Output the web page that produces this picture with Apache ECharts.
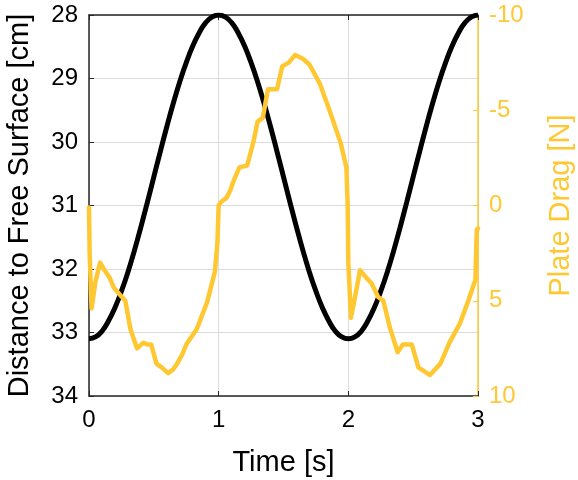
<!DOCTYPE html>
<html>
<head>
<meta charset="utf-8">
<script src="https://cdn.jsdelivr.net/npm/echarts@6/dist/echarts.min.js"></script>
<style>
  html, body { margin: 0; padding: 0; background: #fff; }
  #chart { width: 578px; height: 480px; }
</style>
</head>
<body>
<div id="chart"></div>
<script>
// Plate distance to the free surface [cm], sampled every 0.05 s
const distTime = [
  0.00, 0.05, 0.10, 0.15, 0.20, 0.25, 0.30, 0.35, 0.40, 0.45,
  0.50, 0.55, 0.60, 0.65, 0.70, 0.75, 0.80, 0.85, 0.90, 0.95,
  1.00, 1.05, 1.10, 1.15, 1.20, 1.25, 1.30, 1.35, 1.40, 1.45,
  1.50, 1.55, 1.60, 1.65, 1.70, 1.75, 1.80, 1.85, 1.90, 1.95,
  2.00, 2.05, 2.10, 2.15, 2.20, 2.25, 2.30, 2.35, 2.40, 2.45,
  2.50, 2.55, 2.60, 2.65, 2.70, 2.75, 2.80, 2.85, 2.90, 2.95, 3.00
];
const distValues = [
  33.10, 33.07, 32.98, 32.82, 32.61, 32.35, 32.05, 31.71, 31.34, 30.95,
  30.55, 30.15, 29.76, 29.39, 29.05, 28.75, 28.49, 28.28, 28.12, 28.03,
  28.00, 28.03, 28.12, 28.28, 28.49, 28.75, 29.05, 29.39, 29.76, 30.15,
  30.55, 30.95, 31.34, 31.71, 32.05, 32.35, 32.61, 32.82, 32.98, 33.07,
  33.10, 33.07, 32.98, 32.82, 32.61, 32.35, 32.05, 31.71, 31.34, 30.95,
  30.55, 30.15, 29.76, 29.39, 29.05, 28.75, 28.49, 28.28, 28.12, 28.03, 28.00
];

// Measured plate drag [N]
const dragTime = [
  0.000, 0.005, 0.020, 0.050, 0.085, 0.120, 0.160, 0.190, 0.240, 0.280,
  0.320, 0.370, 0.420, 0.450, 0.480, 0.520, 0.560, 0.610, 0.650, 0.680,
  0.720, 0.750, 0.830, 0.910, 0.970, 0.990, 1.000, 1.020, 1.060, 1.090,
  1.110, 1.160, 1.220, 1.270, 1.300, 1.340, 1.380, 1.450, 1.490, 1.540,
  1.590, 1.650, 1.700, 1.780, 1.860, 1.940, 1.985, 1.995, 2.000, 2.020,
  2.060, 2.090, 2.140, 2.180, 2.230, 2.270, 2.320, 2.380, 2.420, 2.490,
  2.540, 2.630, 2.710, 2.780, 2.860, 2.920, 2.980, 2.990, 3.000
];
const dragValues = [
  0.1, 2.5, 5.4, 4.0, 3.0, 3.4, 3.8, 4.3, 4.7, 5.0,
  6.5, 7.5, 7.2, 7.3, 7.3, 8.3, 8.5, 8.8, 8.6, 8.3,
  7.8, 7.3, 6.5, 5.1, 3.5, 2.0, 0.0, -0.2, -0.4, -0.8,
  -1.2, -2.0, -2.1, -3.4, -4.4, -4.6, -6.1, -6.1, -7.3, -7.5,
  -7.9, -7.7, -7.4, -6.4, -4.9, -3.3, -2.0, 0.0, 3.0, 5.9,
  4.5, 3.4, 3.8, 4.1, 4.8, 5.0, 6.4, 7.7, 7.3, 7.3,
  8.5, 8.9, 8.3, 7.2, 6.2, 5.1, 3.9, 1.3, 1.2
];

const AXIS_DARK = '#262626';
const DRAG_COLOR = '#FFC832';
const FONT = 'Liberation Sans, Arial, sans-serif';

const zip = (xs, ys) => xs.map((x, i) => [x, ys[i]]);

const chart = echarts.init(document.getElementById('chart'), null, { renderer: 'canvas' });

chart.setOption({
  animation: false,
  backgroundColor: '#ffffff',
  grid: { left: 89, right: 100, top: 15, bottom: 84, containLabel: false, outerBoundsMode: 'none' },
  xAxis: [
    {
      type: 'value', min: 0, max: 3, interval: 1,
      name: 'Time [s]', nameLocation: 'middle', nameGap: 52,
      nameTextStyle: { fontFamily: FONT, fontSize: 29, color: '#000' },
      axisLine: { show: true, onZero: false, lineStyle: { color: AXIS_DARK, width: 1.5 } },
      axisTick: { show: true, inside: true, length: 5, lineStyle: { color: AXIS_DARK } },
      axisLabel: { fontFamily: FONT, fontSize: 24, color: '#000', margin: 12 },
      splitLine: { show: true, lineStyle: { color: '#dcdcdc', width: 1 } }
    },
    {
      type: 'value', min: 0, max: 3, interval: 1, position: 'top',
      axisLine: { show: true, onZero: false, lineStyle: { color: AXIS_DARK, width: 1.5 } },
      axisTick: { show: true, inside: true, length: 5, lineStyle: { color: AXIS_DARK } },
      axisLabel: { show: false },
      splitLine: { show: false }
    }
  ],
  yAxis: [
    {
      type: 'value', inverse: true, min: 28, max: 34, interval: 1,
      name: 'Distance to Free Surface [cm]', nameLocation: 'middle', nameGap: 55,
      nameTextStyle: { fontFamily: FONT, fontSize: 29, color: '#000' },
      axisLine: { show: true, onZero: false, lineStyle: { color: AXIS_DARK, width: 1.5 } },
      axisTick: { show: true, inside: true, length: 5, lineStyle: { color: AXIS_DARK } },
      axisLabel: { fontFamily: FONT, fontSize: 24, color: '#000', margin: 11 },
      splitLine: { show: true, lineStyle: { color: '#dcdcdc', width: 1 } }
    },
    {
      type: 'value', inverse: true, min: -10, max: 10, interval: 5, position: 'right',
      name: 'Plate Drag [N]', nameLocation: 'middle', nameGap: 68, nameRotate: 90,
      nameTextStyle: { fontFamily: FONT, fontSize: 29, color: DRAG_COLOR },
      axisLine: { show: true, onZero: false, lineStyle: { color: DRAG_COLOR, width: 1.5 } },
      axisTick: { show: true, inside: true, length: 5, lineStyle: { color: DRAG_COLOR } },
      axisLabel: { fontFamily: FONT, fontSize: 24, color: DRAG_COLOR, margin: 11 },
      splitLine: { show: false }
    }
  ],
  series: [
    {
      name: 'Distance', type: 'line', xAxisIndex: 0, yAxisIndex: 0,
      data: zip(distTime, distValues),
      showSymbol: false, smooth: true,
      lineStyle: { color: '#000000', width: 5 }, z: 3
    },
    {
      name: 'Drag', type: 'line', xAxisIndex: 0, yAxisIndex: 1,
      data: zip(dragTime, dragValues),
      showSymbol: false, smooth: false,
      lineStyle: { color: DRAG_COLOR, width: 4.5, join: 'round', cap: 'round' }, z: 4
    }
  ]
});
</script>
</body>
</html>
